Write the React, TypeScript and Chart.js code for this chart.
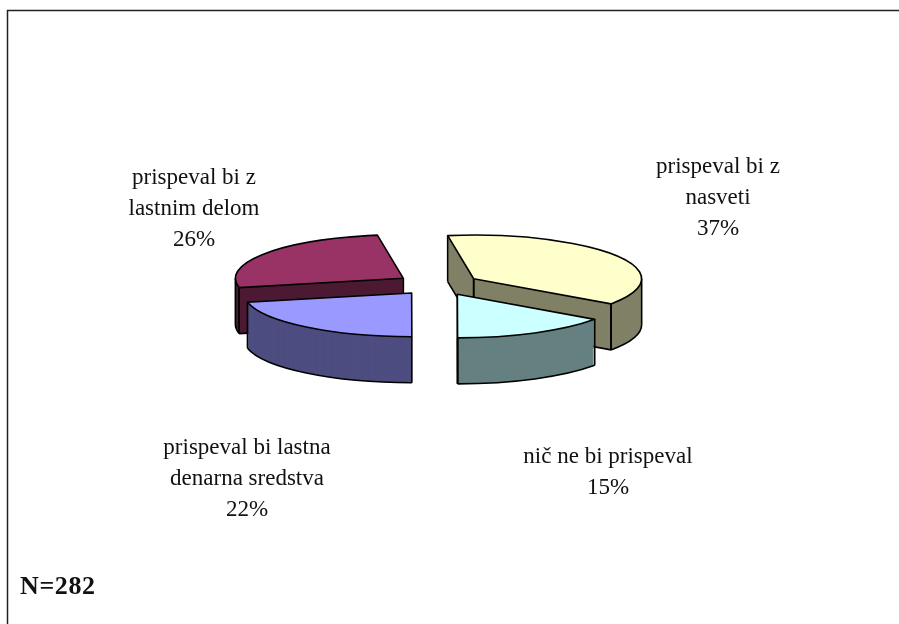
import React, { useEffect, useRef } from "react";
import { Chart, registerables } from "chart.js";

Chart.register(...registerables);

const categories = [
  ["prispeval bi z", "nasveti"],
  ["nič ne bi prispeval"],
  ["prispeval bi lastna", "denarna sredstva"],
  ["prispeval bi z", "lastnim delom"],
];
const values = [37.2, 15.2, 21.6, 25.9];
const topColors = ["#FFFFCC", "#CCFFFF", "#9999FF", "#993366"];
const wallColors = ["#808066", "#668080", "#4D4D80", "#4D1A33"];
const sampleNote = "N=282";

const WIDTH = 899;
const HEIGHT = 624;
const TILT = 0.26;
const DEPTH = 46;
const EXPLODE = 42;
const RADIUS = 168;
const FONT = '"Liberation Serif", serif';
const drawOrder = [0, 3, 1, 2];
const labelAnchors = [
  { x: 718, y: 167 },
  { x: 608, y: 457 },
  { x: 247, y: 448 },
  { x: 194, y: 178 },
];

const tiltPiePlugin = {
  id: "tiltPie",
  beforeDraw(chart: any) {
    const ctx = chart.ctx;
    ctx.save();
    ctx.strokeStyle = "#222";
    ctx.lineWidth = 1.5;
    ctx.beginPath();
    ctx.moveTo(7.5, HEIGHT);
    ctx.lineTo(7.5, 10.5);
    ctx.lineTo(WIDTH, 10.5);
    ctx.stroke();
    ctx.restore();
  },
  beforeDatasetsDraw(chart: any) {
    const ctx = chart.ctx;
    const arcs = chart.getDatasetMeta(0).data;
    const centerOf = (arc: any, dy: number) => {
      const mid = (arc.startAngle + arc.endAngle) / 2;
      return {
        x: arc.x + Math.cos(mid) * EXPLODE,
        y: arc.y + Math.sin(mid) * EXPLODE * TILT + dy,
      };
    };
    const rim = (arc: any, t: number, dy: number) => {
      const c = centerOf(arc, dy);
      return {
        x: c.x + Math.cos(t) * arc.outerRadius,
        y: c.y + Math.sin(t) * arc.outerRadius * TILT,
      };
    };
    const drawFill = (arc: any, color: string, dy: number) => {
      const mid = (arc.startAngle + arc.endAngle) / 2;
      const original = arc.options;
      arc.options = Object.create(original, {
        backgroundColor: { value: color },
        borderWidth: { value: 0 },
        offset: { value: 0 },
      });
      ctx.save();
      ctx.translate(arc.x, arc.y + dy);
      ctx.scale(1, TILT);
      ctx.translate(-arc.x, -arc.y);
      ctx.translate(Math.cos(mid) * EXPLODE, Math.sin(mid) * EXPLODE);
      arc.draw(ctx);
      ctx.restore();
      arc.options = original;
    };
    const sector = (arc: any, dy: number) => {
      const c = centerOf(arc, dy);
      ctx.beginPath();
      ctx.moveTo(c.x, c.y);
      ctx.ellipse(c.x, c.y, arc.outerRadius, arc.outerRadius * TILT, 0, arc.startAngle, arc.endAngle);
      ctx.closePath();
      ctx.stroke();
    };
    const segment = (a: any, b: any) => {
      ctx.beginPath();
      ctx.moveTo(a.x, a.y);
      ctx.lineTo(b.x, b.y);
      ctx.stroke();
    };
    const wallLines = (arc: any) => {
      const top = centerOf(arc, 0);
      const bottom = centerOf(arc, DEPTH);
      const edges = [
        { t: arc.startAngle, normal: arc.startAngle - Math.PI / 2 },
        { t: arc.endAngle, normal: arc.endAngle + Math.PI / 2 },
      ];
      edges.forEach((e) => {
        if (Math.sin(e.normal) > 0) {
          segment(bottom, rim(arc, e.t, DEPTH));
          segment(top, bottom);
          segment(rim(arc, e.t, 0), rim(arc, e.t, DEPTH));
        }
      });
      [-2 * Math.PI, 0, 2 * Math.PI].forEach((k) => {
        const lo = Math.max(arc.startAngle, k);
        const hi = Math.min(arc.endAngle, k + Math.PI);
        if (hi > lo) {
          ctx.beginPath();
          ctx.ellipse(bottom.x, bottom.y, arc.outerRadius, arc.outerRadius * TILT, 0, lo, hi);
          ctx.stroke();
          segment(rim(arc, lo, 0), rim(arc, lo, DEPTH));
          segment(rim(arc, hi, 0), rim(arc, hi, DEPTH));
        }
      });
    };

    ctx.save();
    ctx.strokeStyle = "#000";
    ctx.lineWidth = 1.6;
    ctx.lineJoin = "round";
    drawOrder.forEach((i) => {
      const arc = arcs[i];
      for (let dy = DEPTH; dy >= 1; dy--) drawFill(arc, wallColors[i], dy);
      wallLines(arc);
      drawFill(arc, topColors[i], 0);
      sector(arc, 0);
    });
    ctx.restore();
    return false;
  },
  afterDraw(chart: any) {
    const ctx = chart.ctx;
    ctx.save();
    ctx.fillStyle = "#111";
    ctx.textAlign = "center";
    ctx.textBaseline = "middle";
    ctx.font = `23px ${FONT}`;
    categories.forEach((lines, i) => {
      [...lines, `${Math.round(values[i])}%`].forEach((line, j) => {
        ctx.fillText(line, labelAnchors[i].x, labelAnchors[i].y + j * 31);
      });
    });
    ctx.textAlign = "left";
    ctx.font = `bold 26px ${FONT}`;
    ctx.letterSpacing = "0.6px";
    ctx.fillText(sampleNote, 20, 587);
    ctx.restore();
  },
};

export default function App() {
  const ref = useRef<HTMLCanvasElement>(null);
  useEffect(() => {
    const chart = new Chart(ref.current as HTMLCanvasElement, {
      type: "pie",
      data: {
        labels: categories.map((c) => c.join(" ")),
        datasets: [{ data: values, backgroundColor: topColors, borderWidth: 0 }],
      },
      options: {
        animation: false,
        responsive: false,
        rotation: -8.9,
        radius: RADIUS,
        layout: { padding: { right: 23, bottom: 55 } },
        plugins: { legend: { display: false }, tooltip: { enabled: false } },
      } as any,
      plugins: [tiltPiePlugin as any],
    });
    return () => chart.destroy();
  }, []);
  return (
    <canvas
      ref={ref}
      width={WIDTH}
      height={HEIGHT}
      style={{ position: "absolute", left: 0, top: 0, width: WIDTH, height: HEIGHT, background: "#fff" }}
    />
  );
}
